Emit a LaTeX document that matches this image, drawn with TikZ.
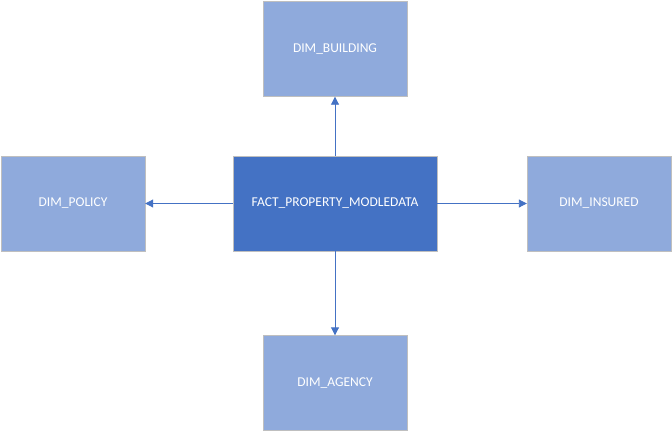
\documentclass[tikz,border=0pt]{standalone}
\usepackage{fontspec}
\setmainfont{Carlito}
\usetikzlibrary{arrows.meta}
\definecolor{factblue}{HTML}{4472C4}
\definecolor{dimblue}{HTML}{8FAADC}
\definecolor{edgegray}{HTML}{BFBFBF}
\begin{document}
\begin{tikzpicture}[x=1pt,y=-1pt,
  dimbox/.style={draw=edgegray,fill=dimblue,text=white,minimum width=144pt,minimum height=95pt,inner sep=0pt,font=\fontsize{13.5}{16}\selectfont},
  factbox/.style={dimbox,fill=factblue,minimum width=204pt},
  link/.style={draw=factblue,line width=0.9pt,-{Triangle[length=8pt,width=8pt]}}]
\useasboundingbox (0,0) rectangle (672,432);

\node[factbox] (fact) at (335,203.5) {FACT\_PROPERTY\_MODLEDATA};

\node[dimbox] (building) at (335,49) {DIM\_BUILDING};
\node[dimbox] (policy) at (73,203.5) {DIM\_POLICY};
\node[dimbox] (insured) at (599,203.5) {DIM\_INSURED};
\node[dimbox] (agency) at (335,383) {DIM\_AGENCY};

\draw[link] (fact.north) -- (building.south);
\draw[link] (fact.west) -- (policy.east);
\draw[link] (fact.east) -- (insured.west);
\draw[link] (fact.south) -- (agency.north);
\end{tikzpicture}
\end{document}
